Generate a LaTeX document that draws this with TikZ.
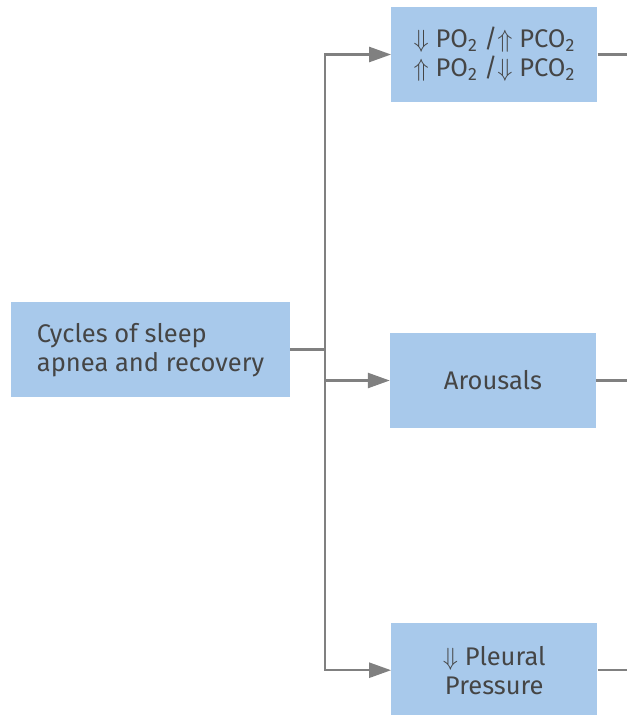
\documentclass[tikz,border=0pt]{standalone}
\usepackage{fontspec}
\setmainfont{Fira Sans}
\usetikzlibrary{arrows.meta}
\definecolor{boxblue}{HTML}{A8C9EB}
\definecolor{linegray}{HTML}{808080}
\definecolor{textgray}{HTML}{454545}

\begin{document}
\begin{tikzpicture}[x=1pt,y=1pt,
  box/.style={fill=boxblue, text=textgray, align=center, inner sep=0pt,
    minimum width=206pt, minimum height=95pt,
    font=\fontsize{25.5}{29}\selectfont},
  conn/.style={draw=linegray, line width=2.5pt},
  arr/.style={conn, -{Triangle[length=22pt,width=15pt]}}]
  \useasboundingbox (0,0) rectangle (627,-715);
  \coordinate (rim) at (627,0);

  \node[box, align=left, minimum width=279pt] (cycles) at (150.5,-349.7)
    {Cycles of sleep\\apnea and recovery};
  \node[box] (gases) at (494.3,-54.5)
    {$\Downarrow$ PO\textsubscript{2} /$\Uparrow$ PCO\textsubscript{2}\\
     $\Uparrow$ PO\textsubscript{2} /$\Downarrow$ PCO\textsubscript{2}};
  \node[box] (arousals) at (493,-380.5) {Arousals};
  \node[box] (pleural) at (494.3,-670.2) {$\Downarrow$ Pleural\\Pressure};

  \coordinate (trunk) at (325,-349.7);
  \draw[conn] (cycles.east) -- (trunk);
  \draw[arr] (trunk) |- (gases.west);
  \draw[arr] (trunk) |- (arousals.west);
  \draw[arr] (trunk) |- (pleural.west);

  \draw[conn] (gases.east) -- (gases.east -| rim);
  \draw[conn] (arousals.east) -- (arousals.east -| rim);
  \draw[conn] (pleural.east) -- (pleural.east -| rim);
\end{tikzpicture}
\end{document}
